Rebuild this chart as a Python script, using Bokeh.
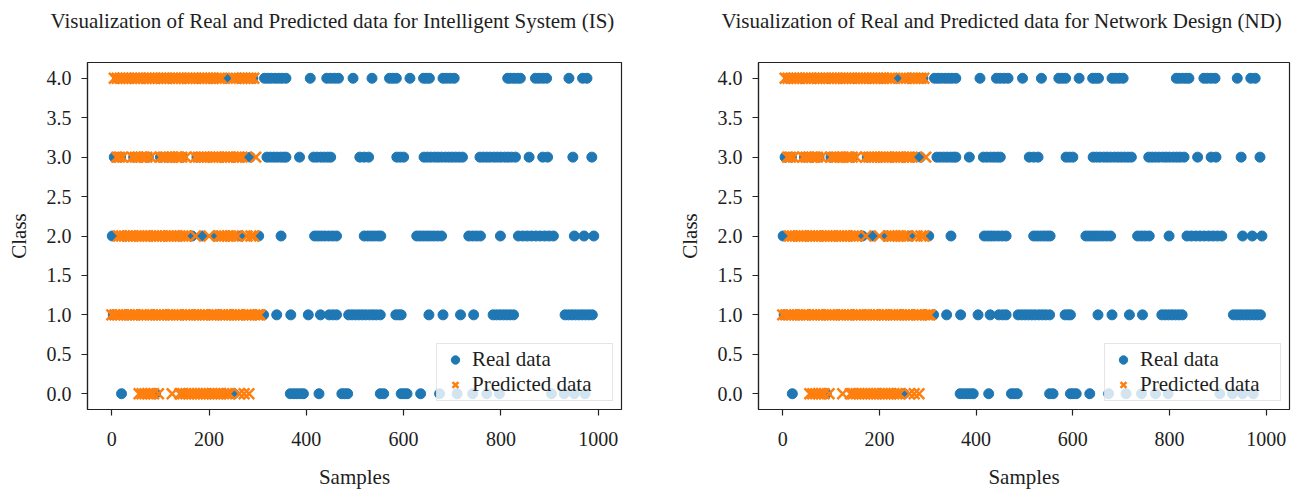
from bokeh.plotting import figure
from bokeh.layouts import row, column
from bokeh.models import Range1d, FixedTicker, NumeralTickFormatter
from bokeh.core.properties import value
from bokeh.embed import file_html
from bokeh.resources import INLINE

# ---------------- data ----------------
titles = [
    "Visualization of Real and Predicted data for Intelligent System (IS)",
    "Visualization of Real and Predicted data for Network Design (ND)",
]
classes = [0, 1, 2, 3, 4]
x_ticks = [0, 200, 400, 600, 800, 1000]
y_ticks = [0.0, 0.5, 1.0, 1.5, 2.0, 2.5, 3.0, 3.5, 4.0]

real_class0 = [20, 90, 150, 200, 230, 251, 367, 374, 381, 388, 394, 426, 473, 479, 485,
               552, 559, 595, 601, 607, 635, 674, 710, 742, 771, 797, 904, 930, 951, 973]
real_class1 = [3, 30, 55, 85, 115, 145, 170, 200, 220, 245, 270, 295, 312, 339, 368, 404, 429,
               447, 455, 462, 487, 494, 501, 508, 515, 522, 530, 537, 544, 552, 584, 590, 595,
               652, 681, 717, 744, 784, 791, 798, 805, 812, 819, 826,
               932, 939, 946, 953, 960, 967, 974, 981, 988]
real_class2 = [1, 25, 50, 80, 110, 140, 165, 186, 215, 240, 265, 302, 348,
               417, 424, 431, 438, 446, 454, 462, 519, 526, 533, 540, 547, 553,
               627, 634, 641, 648, 655, 662, 670, 678, 734, 742, 750, 758, 799,
               836, 845, 854, 863, 872, 881, 890, 899, 908, 951, 971, 991]
real_class3 = [5, 18, 45, 60, 75, 100, 115, 128, 145, 175, 200, 225, 250, 270, 285,
               319, 326, 333, 340, 347, 353, 358, 386, 415, 422, 430, 437, 444, 450,
               510, 519, 528, 586, 593, 600,
               642, 649, 656, 664, 671, 678, 686, 693, 700, 707, 714, 721,
               757, 764, 771, 778, 786, 793, 800, 808, 815, 822, 830, 858, 886, 896, 948, 987]
real_class4 = [12, 40, 66, 95, 120, 150, 178, 205, 235, 262, 290,
               314, 321, 328, 336, 343, 350, 358, 408, 442, 450, 458, 466, 496, 535,
               571, 578, 585, 613, 641, 647, 653, 681, 688, 696, 704,
               814, 820, 827, 834, 840, 871, 878, 886, 894, 940, 968, 977]

pred_class0 = [56, 62, 68, 74, 80, 86, 96, 124, 140, 146, 152, 158, 164, 170, 176, 182,
               188, 194, 200, 206, 212, 218, 224, 230, 236, 242, 262, 272, 282]
pred_class1 = [0, 6, 12, 18, 25, 31, 36, 42, 48, 54, 61, 66, 72, 78, 84, 90, 97, 102, 108,
               114, 120, 126, 133, 138, 144, 150, 156, 162, 169, 174, 180, 186, 192, 198,
               205, 210, 216, 222, 228, 234, 241, 246, 252, 258, 264, 270, 277, 282, 288,
               294, 300, 305]
pred_class2 = [14, 20, 26, 32, 38, 44, 50, 56, 62, 68, 74, 80, 86, 92, 98, 104, 110, 116,
               122, 128, 134, 140, 146, 152, 172, 200, 220, 226, 232, 238, 244, 250, 258,
               278, 286, 292]
pred_class3 = [10, 16, 22, 42, 48, 54, 60, 66, 72, 80, 100, 106, 112, 118, 124, 132, 138,
               144, 152, 172, 178, 184, 190, 196, 202, 208, 214, 220, 226, 232, 238, 244,
               250, 256, 262, 268, 296]
pred_class4 = [5, 11, 17, 23, 29, 35, 41, 47, 53, 59, 65, 71, 77, 83, 89, 95, 101, 107, 113,
               119, 125, 131, 137, 143, 149, 155, 161, 167, 173, 179, 185, 191, 197, 203,
               209, 215, 221, 226, 250, 256, 262, 268, 274, 280, 286, 292]

real_sets = [real_class0, real_class1, real_class2, real_class3, real_class4]
pred_sets = [pred_class0, pred_class1, pred_class2, pred_class3, pred_class4]

real_x = [x for xs in real_sets for x in xs]
real_y = [c for c, xs in zip(classes, real_sets) for _ in xs]
pred_x = [x for xs in pred_sets for x in xs]
pred_y = [c for c, xs in zip(classes, pred_sets) for _ in xs]

# ---------------- style ----------------
FONT = "Liberation Serif"
TXT = "#1e1e1e"
BLUE = "#1f77b4"
ORANGE = "#ff7f0e"
PAGE_W = 1304
TITLE_H = 40


def make_title_strip():
    # a bare strip (1 data unit = 1 px) that carries the two panel titles
    t = figure(width=PAGE_W, height=TITLE_H, output_backend="svg", toolbar_location=None,
               x_range=Range1d(0, PAGE_W), y_range=Range1d(0, TITLE_H), min_border=0)
    t.axis.visible = False
    t.grid.visible = False
    t.outline_line_color = None
    t.text(x=[50, 721], y=[TITLE_H - 20, TITLE_H - 20], text=titles,
           text_font=value(FONT), text_font_size="21px", text_color=TXT,
           text_align="left", text_baseline="alphabetic")
    return t


def make_panel(width, min_left, min_right):
    p = figure(width=width, height=493 - TITLE_H, output_backend="svg", toolbar_location=None,
               x_range=Range1d(-50, 1048), y_range=Range1d(-0.2, 4.2),
               min_border_left=min_left, min_border_right=min_right,
               min_border_top=62 - TITLE_H, min_border_bottom=84)

    p.scatter(real_x, real_y, marker="circle", size=10, fill_color=BLUE,
              line_color=BLUE, legend_label="Real data")
    p.scatter(pred_x, pred_y, marker="x", size=15, line_color=ORANGE,
              line_width=2.5, legend_label="Predicted data")

    p.xgrid.visible = False
    p.ygrid.visible = False
    p.outline_line_color = "#222222"
    p.outline_line_width = 1.2

    for ax in (p.xaxis[0], p.yaxis[0]):
        ax.axis_line_color = "#222222"
        ax.axis_line_width = 1.2
        ax.major_tick_line_color = "#222222"
        ax.major_tick_line_width = 1.2
        ax.major_tick_in = 0
        ax.major_tick_out = 6
        ax.minor_tick_line_color = None
        ax.major_label_text_font = FONT
        ax.major_label_text_font_size = "20px"
        ax.major_label_text_color = TXT
        ax.axis_label_text_font = FONT
        ax.axis_label_text_font_size = "21px"
        ax.axis_label_text_font_style = "normal"
        ax.axis_label_text_color = TXT

    p.xaxis[0].ticker = FixedTicker(ticks=x_ticks)
    p.xaxis[0].axis_label = "Samples"
    p.xaxis[0].major_label_standoff = 16
    p.xaxis[0].axis_label_standoff = 16

    p.yaxis[0].ticker = FixedTicker(ticks=y_ticks)
    p.yaxis[0].formatter = NumeralTickFormatter(format="0.0")
    p.yaxis[0].axis_label = "Class"
    p.yaxis[0].major_label_standoff = 10
    p.yaxis[0].axis_label_standoff = 13

    lg = p.legend[0]
    lg.location = "bottom_right"
    lg.margin = 8
    lg.padding = 3
    lg.spacing = 0
    lg.glyph_width = 30
    lg.glyph_height = 21
    lg.label_height = 21
    lg.label_standoff = 2
    lg.label_width = 137
    lg.label_text_font = FONT
    lg.label_text_font_size = "21px"
    lg.label_text_color = TXT
    lg.border_line_color = "#cccccc"
    lg.border_line_width = 1
    lg.background_fill_color = "white"
    lg.background_fill_alpha = 0.8
    return p


p1 = make_panel(652, 87, 31)
p2 = make_panel(652, 106, 15)

layout = column(make_title_strip(), row(p1, p2))
open("out.html", "w").write(file_html(layout, INLINE))
